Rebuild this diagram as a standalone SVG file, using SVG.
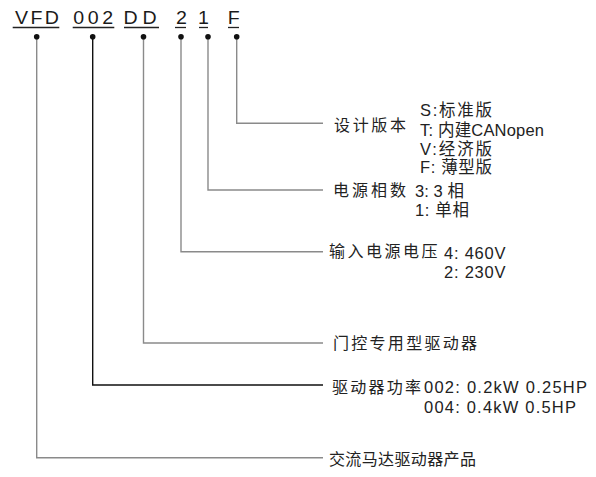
<svg xmlns="http://www.w3.org/2000/svg" width="596" height="477" viewBox="0 0 596 477">
<style>
.code{font-family:"Liberation Sans",Arial,sans-serif;font-size:17.5px;fill:#1a1a1a}
.ul{stroke:#222;stroke-width:1.3}
.dot{fill:#111}
.lab{font-family:"Noto Sans CJK SC","Liberation Sans",sans-serif;font-size:16px;fill:#222}
.opt{font-family:"Liberation Sans","Noto Sans CJK SC",sans-serif;font-size:16.5px;fill:#222}
.conn{fill:none;stroke:#8a8a8a;stroke-width:1.4}
.conn.dark{stroke:#111}
</style>
<rect width="596" height="477" fill="#fff"/>
<g id="connectors">
<path class="conn" d="M236.7 37 V123.3 H323"/>
<path class="conn" d="M208 37 V190 H323"/>
<path class="conn" d="M181 37 V251.7 H323"/>
<path class="conn" d="M143.5 37 V343 H323"/>
<path class="conn dark" d="M92.7 37 V385 H323"/>
<path class="conn" d="M36.7 37 V457.7 H323"/>
</g>
<g id="code-VFD"><text class="code" transform="translate(15 24) scale(1.12 1)" x="0" y="0" textLength="39.3" lengthAdjust="spacing">VFD</text><line class="ul" x1="12.7" y1="27.5" x2="59.3" y2="27.5"/><circle class="dot" cx="36.7" cy="36.7" r="2.8"/></g>
<g id="code-002"><text class="code" transform="translate(73.2 24) scale(1.12 1)" x="0" y="0" textLength="35.7" lengthAdjust="spacing">002</text><line class="ul" x1="72.7" y1="27.5" x2="114.3" y2="27.5"/><circle class="dot" cx="92.7" cy="36.7" r="2.8"/></g>
<g id="code-DD"><text class="code" transform="translate(123.5 24) scale(1.12 1)" x="0" y="0" textLength="29.5" lengthAdjust="spacing">DD</text><line class="ul" x1="124" y1="27.5" x2="159" y2="27.5"/><circle class="dot" cx="143.5" cy="36.7" r="2.8"/></g>
<g id="code-2"><text class="code" transform="translate(176 24) scale(1.12 1)" x="0" y="0">2</text><line class="ul" x1="175" y1="27.5" x2="186" y2="27.5"/><circle class="dot" cx="181" cy="36.7" r="2.8"/></g>
<g id="code-1"><text class="code" transform="translate(197.9 24) scale(1.12 1)" x="0" y="0">1</text><line class="ul" x1="199" y1="27.5" x2="208" y2="27.5"/><circle class="dot" cx="208" cy="36.7" r="2.8"/></g>
<g id="code-F"><text class="code" transform="translate(227.7 24) scale(1.12 1)" x="0" y="0">F</text><line class="ul" x1="228" y1="27.5" x2="239" y2="27.5"/><circle class="dot" cx="236.7" cy="36.7" r="2.8"/></g>
<g id="label-version">
<text class="lab" x="334" y="131" textLength="72" lengthAdjust="spacing">设计版本</text>
<text class="opt" x="420" y="116" textLength="72" lengthAdjust="spacing">S:标准版</text>
<text class="opt" x="420" y="136" textLength="124" lengthAdjust="spacing">T: 内建CANopen</text>
<text class="opt" x="420" y="155" textLength="72" lengthAdjust="spacing">V:经济版</text>
<text class="opt" x="420" y="173" textLength="72" lengthAdjust="spacing">F: 薄型版</text>
</g>
<g id="label-phase">
<text class="lab" x="333" y="196" textLength="73" lengthAdjust="spacing">电源相数</text>
<text class="opt" x="415" y="196.5" textLength="49" lengthAdjust="spacing">3: 3 相</text>
<text class="opt" x="415" y="216" textLength="54" lengthAdjust="spacing">1: 单相</text>
</g>
<g id="label-voltage">
<text class="lab" x="329" y="257" textLength="108.5" lengthAdjust="spacing">输入电源电压</text>
<text class="opt" x="444" y="258.5" textLength="61.5" lengthAdjust="spacing">4: 460V</text>
<text class="opt" x="444" y="278" textLength="61.5" lengthAdjust="spacing">2: 230V</text>
</g>
<g id="label-door">
<text class="lab" x="333" y="349" textLength="144" lengthAdjust="spacing">门控专用型驱动器</text>
</g>
<g id="label-power">
<text class="lab" x="332" y="393" textLength="89" lengthAdjust="spacing">驱动器功率</text>
<text class="opt" x="424" y="393" textLength="163" lengthAdjust="spacing">002: 0.2kW 0.25HP</text>
<text class="opt" x="424" y="413" textLength="152" lengthAdjust="spacing">004: 0.4kW 0.5HP</text>
</g>
<g id="label-product">
<text class="lab" x="329" y="465" textLength="147" lengthAdjust="spacing">交流马达驱动器产品</text>
</g>
</svg>
